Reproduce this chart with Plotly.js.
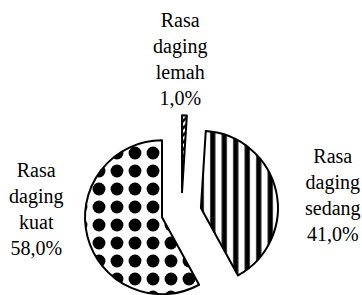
<!DOCTYPE html>
<html>
<head>
<meta charset="utf-8">
<script src="https://cdn.plot.ly/plotly-3.0.1.min.js"></script>
<style>
html,body{margin:0;padding:0;overflow:hidden;background:#fff;}
#chart{width:362px;height:320px;}
</style>
</head>
<body>
<div id="chart"></div>
<script>
var categories = ["Rasa daging lemah", "Rasa daging sedang", "Rasa daging kuat"];
var labelLines = [["Rasa", "daging", "lemah"], ["Rasa", "daging", "sedang"], ["Rasa", "daging", "kuat"]];
var values = [1.0, 41.0, 58.0];
var percentText = ["1,0%", "41,0%", "58,0%"];

var W = 362, H = 320;
var labelPos = [[180, 59], [333, 195], [36, 209]];

var trace = {
  type: "pie",
  labels: categories,
  values: values,
  sort: false,
  direction: "clockwise",
  rotation: 0,
  pull: [0.26, 0.26, 0.26],
  textinfo: "none",
  hoverinfo: "none",
  showlegend: false,
  domain: {x: [0.2331, 0.7691], y: [0.0334, 0.6397]},
  marker: {
    colors: ["#ffffff", "#ffffff", "#ffffff"],
    line: {color: "#000000", width: 2},
    pattern: {
      shape: ["/", "|", "."],
      fgcolor: "#000000",
      bgcolor: "#ffffff",
      fgopacity: 1,
      size: [5, 11.5, 18],
      solidity: [0.5, 0.45, 0.4],
      fillmode: "overlay"
    }
  }
};

var annotations = categories.map(function(c, i) {
  return {
    xref: "paper", yref: "paper",
    x: labelPos[i][0] / W, y: 1 - labelPos[i][1] / H,
    xanchor: "center", yanchor: "middle",
    showarrow: false,
    align: "center",
    text: labelLines[i].concat([percentText[i]]).join("<br>"),
    font: {family: "Liberation Serif", size: 20, color: "#000"}
  };
});

Plotly.newPlot("chart", [trace], {
  width: W, height: H,
  margin: {l: 0, r: 0, t: 0, b: 0},
  paper_bgcolor: "#ffffff",
  plot_bgcolor: "#ffffff",
  annotations: annotations
}, {displayModeBar: false, staticPlot: true});
</script>
</body>
</html>
